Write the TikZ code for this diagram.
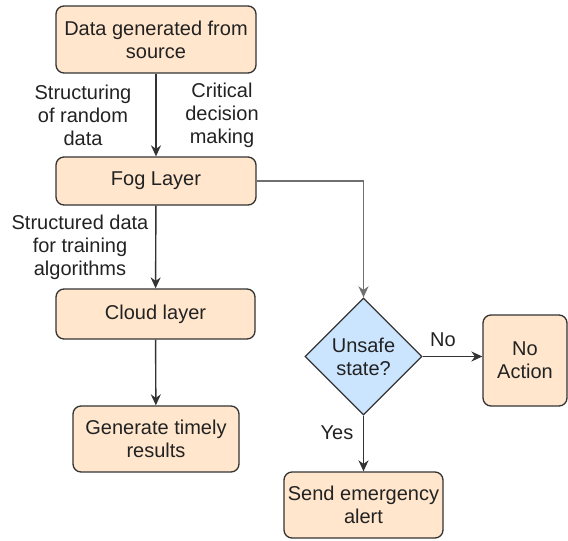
\documentclass[tikz,border=0pt]{standalone}
\usepackage{fontspec}
\setmainfont{Liberation Sans}
\usetikzlibrary{shapes.geometric,arrows.meta}
\definecolor{boxfill}{HTML}{FFE6CC}
\definecolor{diafill}{HTML}{CCE5FF}
\definecolor{edge}{HTML}{333333}
\definecolor{edgegray}{HTML}{707070}
\definecolor{txt}{HTML}{222222}
\tikzset{
  box/.style={draw=edge, line width=1.3pt, fill=boxfill, rounded corners=8pt,
    align=center, text=txt, inner sep=2pt, font=\fontsize{20}{23}\selectfont},
  dec/.style={draw=edge, line width=1.3pt, fill=diafill, diamond, inner sep=0pt,
    minimum width=117pt, minimum height=117pt, align=center, text=txt,
    font=\fontsize{20}{23}\selectfont},
  lbl/.style={align=center, text=txt, font=\fontsize{20}{23}\selectfont, inner sep=0pt},
  conn/.style={draw=edge, line width=1.4pt, -{Stealth[length=11pt,width=10pt]}},
}
\begin{document}
\begin{tikzpicture}[x=1pt,y=-1pt]
\useasboundingbox (0,0) rectangle (568,541);
\node[box, minimum width=200pt, minimum height=67pt] (src) at (156,39.5) {Data generated from\\source};
\node[box, minimum width=200pt, minimum height=48pt] (fog) at (156,181) {Fog Layer};
\node[box, minimum width=199pt, minimum height=50pt] (cloud) at (155.5,314) {Cloud layer};
\node[box, minimum width=166pt, minimum height=66pt] (gen) at (156,439) {Generate timely\\results};
\node[dec] (dia) at (363.5,356.5) {Unsafe\\state?};
\node[box, minimum width=84pt, minimum height=91pt] (noact) at (525,360.5) {No\\Action};
\node[box, minimum width=159pt, minimum height=66pt] (alert) at (363.5,505) {Send emergency\\alert};

\node[lbl] (l1) at (83,115) {Structuring\\of random\\data};
\node[lbl] (l2) at (222,115) {Critical\\decision\\making};
\node[lbl] (l3) at (80,247) {Structured data\\for training\\algorithms};
\node[lbl] (l4) at (443,340) {No};
\node[lbl] (l5) at (337,433) {Yes};

\draw[conn] (src) -- (fog);
\draw[conn] (fog) -- (cloud);
\draw[conn] (cloud) -- (gen);
\draw[conn, draw=edgegray, line width=1.8pt] (fog.east) -| (dia.north);
\draw[conn] (dia.east) -- (noact.west |- dia.east);
\draw[conn] (dia) -- (alert);
\end{tikzpicture}
\end{document}
